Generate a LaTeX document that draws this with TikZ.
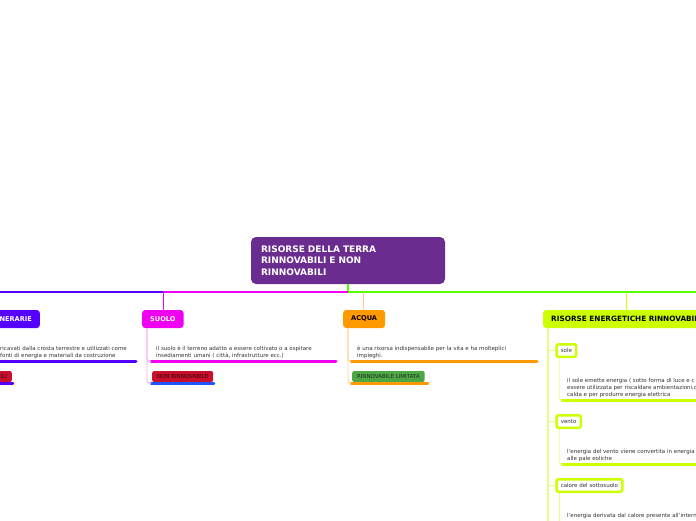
\documentclass[tikz,border=0pt]{standalone}
\usepackage{fontspec}
\setmainfont{DejaVu Sans}
\definecolor{cpurple}{HTML}{6A2D8F}
\definecolor{cviolet}{HTML}{5500FF}
\definecolor{cmag}{HTML}{F000F0}
\definecolor{cmagl}{HTML}{F7A8F7}
\definecolor{corange}{HTML}{FF9900}
\definecolor{corangel}{HTML}{FFCC88}
\definecolor{clime}{HTML}{CCFF00}
\definecolor{climel}{HTML}{E6FF8C}
\definecolor{cgreen}{HTML}{55FF00}
\definecolor{cred}{HTML}{C8102E}
\definecolor{cblue}{HTML}{1F55FF}
\definecolor{cgtag}{HTML}{4CA843}
\definecolor{ctext}{HTML}{333333}
\tikzset{
  rootbox/.style={fill=cpurple, rounded corners=5pt, text=white,
    font=\bfseries\fontsize{9}{11.5}\selectfont, align=left,
    text width=174pt, inner xsep=10pt, inner ysep=0pt, minimum height=47pt},
  topbox/.style={rounded corners=3pt, inner xsep=8pt, inner ysep=0pt,
    minimum height=18pt, font=\bfseries\fontsize{6.6}{8}\selectfont, text=black},
  desc/.style={anchor=north west, inner sep=0pt, align=left,
    font=\fontsize{5.5}{6.7}\selectfont, text=ctext},
  tagbox/.style={rounded corners=2pt, inner xsep=4.8pt, inner ysep=0pt,
    minimum height=11pt, font=\fontsize{5.5}{6}\selectfont},
  subbox/.style={draw=clime, line width=2.5pt, fill=white, rounded corners=2pt,
    inner xsep=4.3pt, inner ysep=0pt, minimum height=12.5pt,
    font=\fontsize{5.5}{6}\selectfont, text=ctext, anchor=west},
  uline/.style={line width=3pt, line cap=round},
  tline/.style={line width=2.5pt, line cap=round},
  hline/.style={line width=1.2pt},
}
\begin{document}
\begin{tikzpicture}[x=1pt,y=-1pt]
\useasboundingbox (0,0) rectangle (696,520);
\fill[white] (0,0) rectangle (696,520);
\clip (0,0) rectangle (696,520);

% root
\node[rootbox] (root) at (348,260.5) {RISORSE DELLA TERRA\\RINNOVABILI E NON\\RINNOVABILI};

% main boxes
\node[topbox, fill=cviolet, text=white, anchor=east] (min) at (40,319) {MINERARIE};
\node[topbox, fill=cmag, text=white, anchor=west] (suolo) at (142,319) {SUOLO};
\node[topbox, fill=corange, anchor=west] (acqua) at (343,319) {ACQUA};
\node[topbox, fill=clime, anchor=west, font=\bfseries\fontsize{7.3}{8}\selectfont] (ener) at (543,319) {RISORSE ENERGETICHE RINNOVABILI};

% hub connectors
\coordinate (hub) at (348,292);
\coordinate (jS) at (163,292);
\coordinate (jA) at (363.5,292);
\coordinate (jE) at (626,292);
\coordinate (jL) at (-5,292);
\coordinate (jR) at (700,292);
\draw[cgreen, line width=1.3pt] (root.south) -- (hub);
\draw[cgreen, hline] (hub) -- (jR);
\draw[cmag, hline] (hub) -- (jS);
\draw[cviolet, hline] (jS) -- (jL);
\draw[cmag, line width=1pt] (jS) -- (jS |- suolo.north);
\draw[corangel, line width=1.5pt] (jA) -- (jA |- acqua.north);
\draw[clime, line width=1pt] (jE) -- (jE |- ener.north);

% MINERARIE column
\node[desc] (minD) at (0,346) {ricavati dalla crosta terrestre e utilizzati come\\fonti di energia e materiali da costruzione};
\coordinate (mU1a) at (0,361.5); \coordinate (mU1b) at (136,361.5);
\draw[cviolet, uline] (mU1a) -- (mU1b);
\node[tagbox, fill=cred, text=black!80!red, anchor=east] (minT) at (12,376.5) {NON RINNOVABILI};
\coordinate (mU2a) at (-2,383.5); \coordinate (mU2b) at (13,383.5);
\draw[cviolet, tline] (mU2a) -- (mU2b);

% SUOLO column
\node[desc] (suoloD) at (156,346) {il suolo è il terreno adatto a essere coltivato o a ospitare\\insediamenti umani ( città, infrastrutture ecc.)};
\coordinate (sU1a) at (151,361.5); \coordinate (sU1b) at (336,361.5);
\draw[cmag, uline] (sU1a) -- (sU1b);
\node[tagbox, fill=cred, text=black!80!red, anchor=west] (suoloT) at (152,376.5) {NON RINNOVABILE};
\coordinate (sU2a) at (151,383.5); \coordinate (sU2b) at (214,383.5);
\draw[cblue, tline] (sU2a) -- (sU2b);
\draw[cmagl, line width=0.9pt, rounded corners=3pt] ([xshift=5pt]suolo.south west) |- (sU1a);
\draw[cmagl, line width=0.9pt, rounded corners=3pt] ([xshift=5pt]suolo.south west) |- (sU2a);

% ACQUA column
\node[desc] (acquaD) at (357,346) {è una risorsa indispensabile per la vita e ha molteplici\\impieghi.};
\coordinate (aU1a) at (351,361.5); \coordinate (aU1b) at (537,361.5);
\draw[corange, uline] (aU1a) -- (aU1b);
\node[tagbox, fill=cgtag, text=black!85, anchor=west] (acquaT) at (352,376.5) {RINNOVABILE LIMITATA};
\coordinate (aU2a) at (351,383.5); \coordinate (aU2b) at (428,383.5);
\draw[corange, tline] (aU2a) -- (aU2b);
\draw[corangel, line width=0.9pt, rounded corners=3pt] ([xshift=5pt]acqua.south west) |- (aU1a);
\draw[corangel, line width=0.9pt, rounded corners=3pt] ([xshift=5pt]acqua.south west) |- (aU2a);

% ENERGETICHE column
\coordinate (trunkE) at (548,530);
\draw[climel, line width=1.4pt] ([xshift=5pt]ener.south west) -- (trunkE);
\node[subbox] (sole) at (555.25,350.5) {sole};
\node[subbox] (vento) at (555.25,421.5) {vento};
\node[subbox] (calore) at (555.25,485.5) {calore del sottosuolo};
\draw[climel, line width=0.8pt] (sole.west -| trunkE) -- (sole.west);
\draw[climel, line width=0.8pt] (vento.west -| trunkE) -- (vento.west);
\draw[climel, line width=0.8pt] (calore.west -| trunkE) -- (calore.west);

\node[desc] (soleD) at (567,378.5) {il sole emette energia ( sotto forma di luce e c\\essere utilizzata per riscaldare ambientazioni,c\\calda e per produrre energia elettrica};
\coordinate (eU1a) at (562,400); \coordinate (eU1b) at (700,400);
\draw[clime, uline] (eU1a) -- (eU1b);
\draw[climel, line width=0.8pt, rounded corners=3pt] ([xshift=4pt]sole.south west) |- (eU1a);

\node[desc] (ventoD) at (567,449.3) {l'energia del vento viene convertita in energia\\alle pale eoliche};
\coordinate (eU2a) at (562,464.3); \coordinate (eU2b) at (700,464.3);
\draw[clime, uline] (eU2a) -- (eU2b);
\draw[climel, line width=0.8pt, rounded corners=3pt] ([xshift=4pt]vento.south west) |- (eU2a);

\node[desc] (caloreD) at (567,512.7) {l'energia derivata dal calore presente all'intern};
\coordinate (cB) at ([xshift=4pt]calore.south west);
\coordinate (eU3) at (559,530);
\draw[climel, line width=0.8pt] (cB) -- (cB |- eU3);
\end{tikzpicture}
\end{document}
